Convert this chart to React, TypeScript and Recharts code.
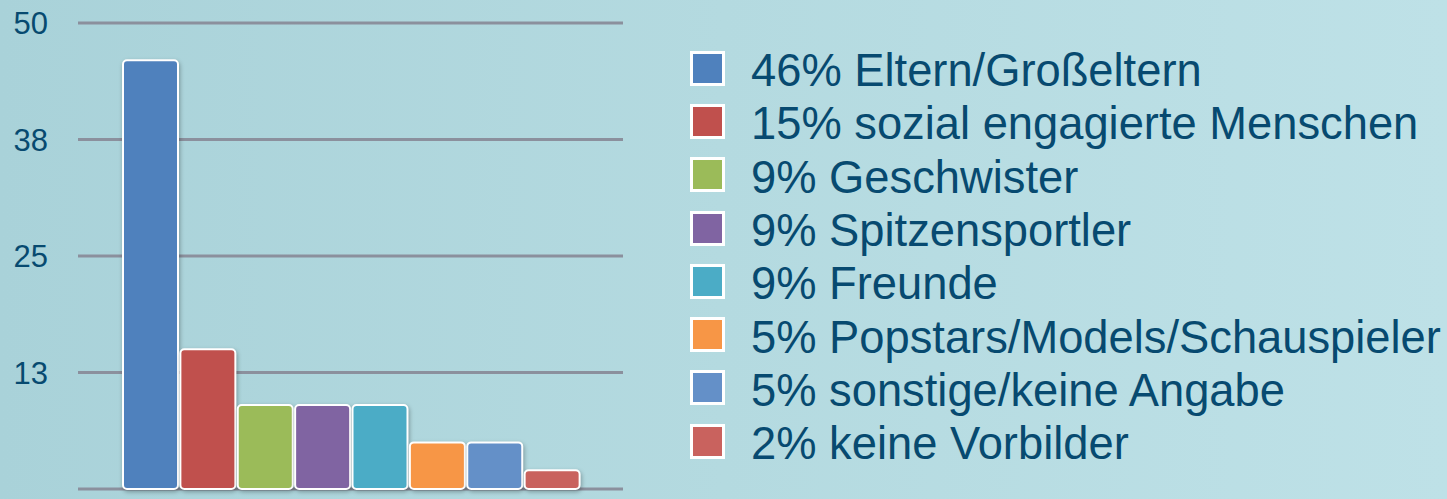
import React from "react";
import { BarChart, Bar, Cell, XAxis, YAxis, CartesianGrid } from "recharts";

const categories = [
	"Eltern/Großeltern",
	"sozial engagierte Menschen",
	"Geschwister",
	"Spitzensportler",
	"Freunde",
	"Popstars/Models/Schauspieler",
	"sonstige/keine Angabe",
	"keine Vorbilder",
];
const values = [46, 15, 9, 9, 9, 5, 5, 2];
const colors = [
	"#4f81bd",
	"#c0504d",
	"#9bbb59",
	"#8064a2",
	"#4bacc6",
	"#f79646",
	"#6490c8",
	"#c9625e",
];
const yTicks = [0, 12.5, 25, 37.5, 50];

const data = categories.map((name, i) => ({ name, value: values[i] }));

const textColor = "#074a70";
const font = "'Liberation Sans', Arial, Helvetica, sans-serif";

const App = () => {
	return (
		<div
			style={{
				position: "absolute",
				left: 0,
				top: 0,
				width: 1447,
				height: 499,
				background: "linear-gradient(90deg, #a9d2d9 0%, #b4dae0 50%, #bee1e7 100%)",
				fontFamily: font,
				overflow: "hidden",
			}}
		>
			<style>{`.recharts-bar-rectangle path { filter: drop-shadow(1px 2px 2px rgba(0,0,0,0.3)); }`}</style>
			<BarChart
				width={1447}
				height={499}
				data={data}
				margin={{ top: 23, right: 824, bottom: 10, left: 0 }}
				barCategoryGap={1}
			>
				<CartesianGrid vertical={false} stroke="#8b909d" strokeWidth={3} />
				<XAxis dataKey="name" hide padding={{ left: 44, right: 42 }} />
				<YAxis
					width={78}
					domain={[0, 50]}
					ticks={yTicks}
					axisLine={false}
					tickLine={false}
					tickSize={0}
					tickMargin={30}
					tick={{ fill: textColor, fontSize: 31, fontFamily: font }}
					tickFormatter={(v) => String(Math.round(v))}
				/>
				<Bar
					dataKey="value"
					stroke="#ffffff"
					strokeWidth={2}
					radius={[4, 4, 4, 4]}
					isAnimationActive={false}
				>
					{data.map((d, i) => (
						<Cell key={d.name} fill={colors[i]} />
					))}
				</Bar>
			</BarChart>
			<div style={{ position: "absolute", left: 690, top: 44 }}>
				{data.map((d, i) => (
					<div
						key={d.name}
						style={{
							display: "flex",
							alignItems: "center",
							height: 53.3,
						}}
					>
						<div
							style={{
								width: 29,
								height: 29,
								background: colors[i],
								border: "3px solid #ffffff",
								marginTop: -5,
							}}
						/>
						<span
							style={{
								marginLeft: 26,
								fontSize: 45.3,
								color: textColor,
								whiteSpace: "nowrap",
								lineHeight: "53px",
							}}
						>
							{d.value}% {d.name}
						</span>
					</div>
				))}
			</div>
		</div>
	);
};

export default App;
